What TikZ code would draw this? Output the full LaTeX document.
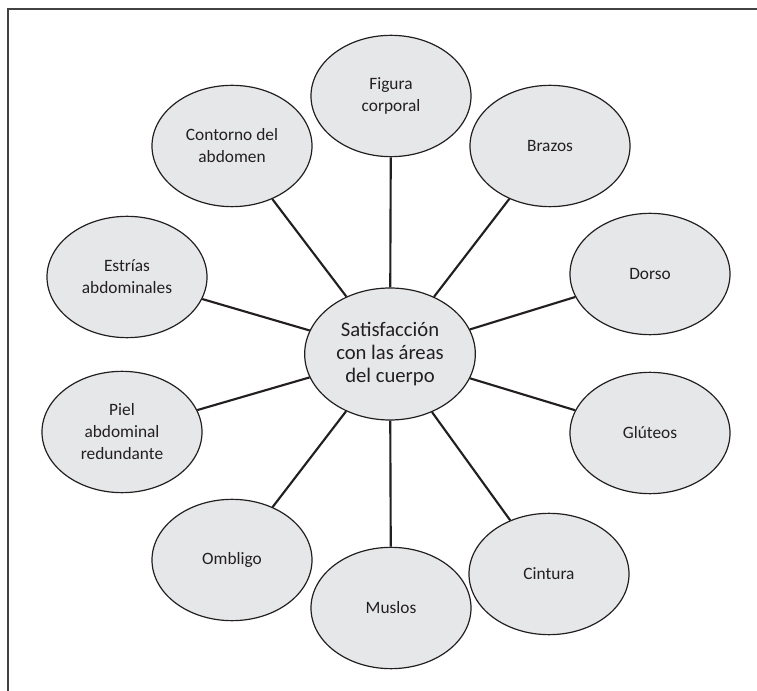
\documentclass[tikz,border=0pt]{standalone}
\usepackage{fontspec}
\setmainfont{Carlito}
\usepackage{xcolor}
\usepackage{tikz}
\usetikzlibrary{shapes.geometric}

\definecolor{areafill}{HTML}{E6E7E8}
\definecolor{areadraw}{HTML}{231F20}

\begin{document}
\begin{tikzpicture}[x=0.75pt, y=-0.75pt]
        % Define styles
        \tikzset{
            area/.style={ellipse, draw=areadraw, fill=areafill, line width=0.9pt, inner sep=0pt,
                minimum width=120pt, minimum height=91pt, align=center, text=areadraw,
                font=\fontsize{13pt}{16.5pt}\selectfont},
            hub/.style={area, minimum width=128pt, minimum height=99pt,
                font=\fontsize{15.5pt}{17.5pt}\selectfont},
            link/.style={draw=areadraw, line width=1.6pt},
            frame/.style={draw=areadraw!85, line width=0.8pt}
        }
        \useasboundingbox (0,0) rectangle (757,691);

        % Frame
        \draw[frame] (757,9) -- (8,9) -- (8,691);

        % Nodes
        \node[hub] (center_node) at (390,354) {Satisfacción\\con las áreas\\del cuerpo};
        \node[area] (area_node_1) at (391,96) {Figura\\corporal};
        \node[area] (area_node_2) at (550,146) {Brazos};
        \node[area] (area_node_3) at (650,274) {Dorso};
        \node[area] (area_node_4) at (650,433) {Glúteos};
        \node[area] (area_node_5) at (549,574) {Cintura};
        \node[area] (area_node_6) at (391,608) {Muslos};
        \node[area] (area_node_7) at (232,560) {Ombligo};
        \node[area] (area_node_8) at (122,432) {Piel\\abdominal\\redundante};
        \node[area] (area_node_9) at (127,277) {Estrías\\abdominales};
        \node[area] (area_node_10) at (232,146) {Contorno del\\abdomen};

        % Lines
        \foreach \i in {1,...,10}
            \draw[link] (center_node) -- (area_node_\i);
    \end{tikzpicture}
\end{document}
